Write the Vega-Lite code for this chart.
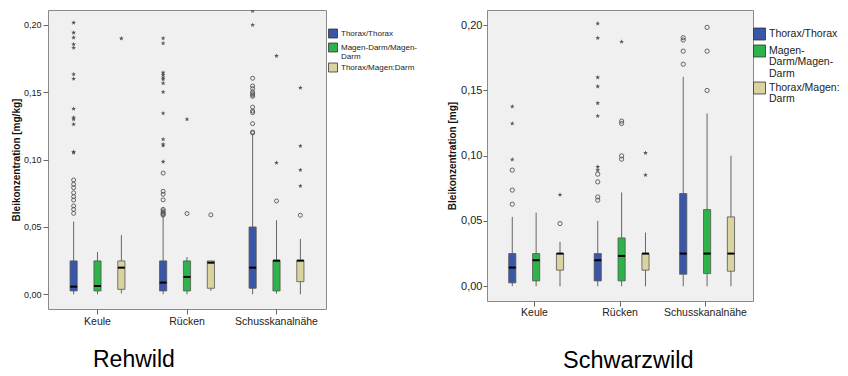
{
  "$schema": "https://vega.github.io/schema/vega-lite/v6.json",
  "padding": {"left": 10, "top": 9, "right": 0, "bottom": 0},
  "background": "white",
  "config": {
    "view": {"fill": "#f0f0f0", "stroke": "#8a8a8a", "strokeWidth": 1},
    "font": "Liberation Sans",
    "concat": {"spacing": 28}
  },
  "datasets": {
    "rehBox": [
      {"cat": "Keule", "grp": "Thorax/Thorax", "lo": 0.0, "q1": 0.0025, "med": 0.0057, "q3": 0.0248, "hi": 0.054},
      {"cat": "Keule", "grp": "Magen-Darm/Magen-Darm", "lo": 0.0, "q1": 0.0025, "med": 0.0062, "q3": 0.0248, "hi": 0.0314},
      {"cat": "Keule", "grp": "Thorax/Magen:Darm", "lo": 0.0007, "q1": 0.0037, "med": 0.0198, "q3": 0.0248, "hi": 0.044},
      {"cat": "Rücken", "grp": "Thorax/Thorax", "lo": 0.0, "q1": 0.0025, "med": 0.0087, "q3": 0.0248, "hi": 0.058},
      {"cat": "Rücken", "grp": "Magen-Darm/Magen-Darm", "lo": 0.0, "q1": 0.0025, "med": 0.0129, "q3": 0.0248, "hi": 0.0277},
      {"cat": "Rücken", "grp": "Thorax/Magen:Darm", "lo": 0.0025, "q1": 0.0045, "med": 0.0235, "q3": 0.0248, "hi": 0.0248},
      {"cat": "Schusskanalnähe", "grp": "Thorax/Thorax", "lo": 0.0, "q1": 0.0045, "med": 0.0198, "q3": 0.05, "hi": 0.119},
      {"cat": "Schusskanalnähe", "grp": "Magen-Darm/Magen-Darm", "lo": 0.0005, "q1": 0.0025, "med": 0.025, "q3": 0.0252, "hi": 0.055},
      {"cat": "Schusskanalnähe", "grp": "Thorax/Magen:Darm", "lo": 0.0, "q1": 0.0094, "med": 0.025, "q3": 0.0252, "hi": 0.0411}
    ],
    "rehOut": [
      {"cat": "Keule", "grp": "Thorax/Thorax", "t": "o", "v": 0.0849},
      {"cat": "Keule", "grp": "Thorax/Thorax", "t": "o", "v": 0.0817},
      {"cat": "Keule", "grp": "Thorax/Thorax", "t": "o", "v": 0.0792},
      {"cat": "Keule", "grp": "Thorax/Thorax", "t": "o", "v": 0.0754},
      {"cat": "Keule", "grp": "Thorax/Thorax", "t": "o", "v": 0.0725},
      {"cat": "Keule", "grp": "Thorax/Thorax", "t": "o", "v": 0.07},
      {"cat": "Keule", "grp": "Thorax/Thorax", "t": "o", "v": 0.0656},
      {"cat": "Keule", "grp": "Thorax/Thorax", "t": "o", "v": 0.0631},
      {"cat": "Keule", "grp": "Thorax/Thorax", "t": "o", "v": 0.0601},
      {"cat": "Keule", "grp": "Thorax/Thorax", "t": "s", "v": 0.2017},
      {"cat": "Keule", "grp": "Thorax/Thorax", "t": "s", "v": 0.1943},
      {"cat": "Keule", "grp": "Thorax/Thorax", "t": "s", "v": 0.1906},
      {"cat": "Keule", "grp": "Thorax/Thorax", "t": "s", "v": 0.1856},
      {"cat": "Keule", "grp": "Thorax/Thorax", "t": "s", "v": 0.1831},
      {"cat": "Keule", "grp": "Thorax/Thorax", "t": "s", "v": 0.1634},
      {"cat": "Keule", "grp": "Thorax/Thorax", "t": "s", "v": 0.1601},
      {"cat": "Keule", "grp": "Thorax/Thorax", "t": "s", "v": 0.1378},
      {"cat": "Keule", "grp": "Thorax/Thorax", "t": "s", "v": 0.1312},
      {"cat": "Keule", "grp": "Thorax/Thorax", "t": "s", "v": 0.1299},
      {"cat": "Keule", "grp": "Thorax/Thorax", "t": "s", "v": 0.1262},
      {"cat": "Keule", "grp": "Thorax/Thorax", "t": "s", "v": 0.1059},
      {"cat": "Keule", "grp": "Thorax/Thorax", "t": "s", "v": 0.1052},
      {"cat": "Keule", "grp": "Thorax/Magen:Darm", "t": "s", "v": 0.19},
      {"cat": "Rücken", "grp": "Thorax/Thorax", "t": "s", "v": 0.1901},
      {"cat": "Rücken", "grp": "Thorax/Thorax", "t": "s", "v": 0.1864},
      {"cat": "Rücken", "grp": "Thorax/Thorax", "t": "s", "v": 0.1646},
      {"cat": "Rücken", "grp": "Thorax/Thorax", "t": "s", "v": 0.163},
      {"cat": "Rücken", "grp": "Thorax/Thorax", "t": "s", "v": 0.161},
      {"cat": "Rücken", "grp": "Thorax/Thorax", "t": "s", "v": 0.1596},
      {"cat": "Rücken", "grp": "Thorax/Thorax", "t": "s", "v": 0.1567},
      {"cat": "Rücken", "grp": "Thorax/Thorax", "t": "s", "v": 0.1502},
      {"cat": "Rücken", "grp": "Thorax/Thorax", "t": "s", "v": 0.1344},
      {"cat": "Rücken", "grp": "Thorax/Thorax", "t": "s", "v": 0.1151},
      {"cat": "Rücken", "grp": "Thorax/Thorax", "t": "s", "v": 0.1114},
      {"cat": "Rücken", "grp": "Thorax/Thorax", "t": "s", "v": 0.1105},
      {"cat": "Rücken", "grp": "Thorax/Thorax", "t": "s", "v": 0.0985},
      {"cat": "Rücken", "grp": "Thorax/Thorax", "t": "o", "v": 0.09},
      {"cat": "Rücken", "grp": "Thorax/Thorax", "t": "o", "v": 0.0765},
      {"cat": "Rücken", "grp": "Thorax/Thorax", "t": "o", "v": 0.0743},
      {"cat": "Rücken", "grp": "Thorax/Thorax", "t": "o", "v": 0.0702},
      {"cat": "Rücken", "grp": "Thorax/Thorax", "t": "o", "v": 0.0631},
      {"cat": "Rücken", "grp": "Thorax/Thorax", "t": "o", "v": 0.062},
      {"cat": "Rücken", "grp": "Thorax/Thorax", "t": "o", "v": 0.061},
      {"cat": "Rücken", "grp": "Thorax/Thorax", "t": "o", "v": 0.06},
      {"cat": "Rücken", "grp": "Thorax/Thorax", "t": "o", "v": 0.0594},
      {"cat": "Rücken", "grp": "Thorax/Thorax", "t": "o", "v": 0.0588},
      {"cat": "Rücken", "grp": "Magen-Darm/Magen-Darm", "t": "s", "v": 0.13},
      {"cat": "Rücken", "grp": "Magen-Darm/Magen-Darm", "t": "o", "v": 0.06},
      {"cat": "Rücken", "grp": "Thorax/Magen:Darm", "t": "o", "v": 0.059},
      {"cat": "Schusskanalnähe", "grp": "Thorax/Thorax", "t": "s", "v": 0.2104},
      {"cat": "Schusskanalnähe", "grp": "Thorax/Thorax", "t": "s", "v": 0.2},
      {"cat": "Schusskanalnähe", "grp": "Thorax/Thorax", "t": "o", "v": 0.1604},
      {"cat": "Schusskanalnähe", "grp": "Thorax/Thorax", "t": "o", "v": 0.1547},
      {"cat": "Schusskanalnähe", "grp": "Thorax/Thorax", "t": "o", "v": 0.1527},
      {"cat": "Schusskanalnähe", "grp": "Thorax/Thorax", "t": "o", "v": 0.1502},
      {"cat": "Schusskanalnähe", "grp": "Thorax/Thorax", "t": "o", "v": 0.149},
      {"cat": "Schusskanalnähe", "grp": "Thorax/Thorax", "t": "o", "v": 0.148},
      {"cat": "Schusskanalnähe", "grp": "Thorax/Thorax", "t": "o", "v": 0.147},
      {"cat": "Schusskanalnähe", "grp": "Thorax/Thorax", "t": "o", "v": 0.139},
      {"cat": "Schusskanalnähe", "grp": "Thorax/Thorax", "t": "o", "v": 0.1361},
      {"cat": "Schusskanalnähe", "grp": "Thorax/Thorax", "t": "o", "v": 0.1349},
      {"cat": "Schusskanalnähe", "grp": "Thorax/Thorax", "t": "o", "v": 0.1267},
      {"cat": "Schusskanalnähe", "grp": "Thorax/Thorax", "t": "o", "v": 0.1205},
      {"cat": "Schusskanalnähe", "grp": "Thorax/Thorax", "t": "o", "v": 0.1198},
      {"cat": "Schusskanalnähe", "grp": "Magen-Darm/Magen-Darm", "t": "s", "v": 0.177},
      {"cat": "Schusskanalnähe", "grp": "Magen-Darm/Magen-Darm", "t": "s", "v": 0.0977},
      {"cat": "Schusskanalnähe", "grp": "Magen-Darm/Magen-Darm", "t": "o", "v": 0.0693},
      {"cat": "Schusskanalnähe", "grp": "Thorax/Magen:Darm", "t": "s", "v": 0.1534},
      {"cat": "Schusskanalnähe", "grp": "Thorax/Magen:Darm", "t": "s", "v": 0.1101},
      {"cat": "Schusskanalnähe", "grp": "Thorax/Magen:Darm", "t": "s", "v": 0.0923},
      {"cat": "Schusskanalnähe", "grp": "Thorax/Magen:Darm", "t": "s", "v": 0.0804},
      {"cat": "Schusskanalnähe", "grp": "Thorax/Magen:Darm", "t": "o", "v": 0.0587}
    ],
    "schBox": [
      {"cat": "Keule", "grp": "Thorax/Thorax", "lo": 0.0, "q1": 0.0026, "med": 0.0143, "q3": 0.025, "hi": 0.0531},
      {"cat": "Keule", "grp": "Magen-Darm/Magen-Darm", "lo": 0.0, "q1": 0.0041, "med": 0.0199, "q3": 0.025, "hi": 0.0564},
      {"cat": "Keule", "grp": "Thorax/Magen:Darm", "lo": 0.0, "q1": 0.0123, "med": 0.025, "q3": 0.025, "hi": 0.034},
      {"cat": "Rücken", "grp": "Thorax/Thorax", "lo": 0.0, "q1": 0.0041, "med": 0.0199, "q3": 0.025, "hi": 0.05},
      {"cat": "Rücken", "grp": "Magen-Darm/Magen-Darm", "lo": 0.0, "q1": 0.0041, "med": 0.0232, "q3": 0.037, "hi": 0.0718},
      {"cat": "Rücken", "grp": "Thorax/Magen:Darm", "lo": 0.0, "q1": 0.0123, "med": 0.025, "q3": 0.025, "hi": 0.0411},
      {"cat": "Schusskanalnähe", "grp": "Thorax/Thorax", "lo": 0.0, "q1": 0.0092, "med": 0.025, "q3": 0.071, "hi": 0.1604},
      {"cat": "Schusskanalnähe", "grp": "Magen-Darm/Magen-Darm", "lo": 0.0, "q1": 0.0097, "med": 0.025, "q3": 0.0587, "hi": 0.1323},
      {"cat": "Schusskanalnähe", "grp": "Thorax/Magen:Darm", "lo": 0.0, "q1": 0.0115, "med": 0.025, "q3": 0.0531, "hi": 0.0999}
    ],
    "schOut": [
      {"cat": "Keule", "grp": "Thorax/Thorax", "t": "s", "v": 0.1376},
      {"cat": "Keule", "grp": "Thorax/Thorax", "t": "s", "v": 0.1246},
      {"cat": "Keule", "grp": "Thorax/Thorax", "t": "s", "v": 0.097},
      {"cat": "Keule", "grp": "Thorax/Thorax", "t": "o", "v": 0.0889},
      {"cat": "Keule", "grp": "Thorax/Thorax", "t": "o", "v": 0.0736},
      {"cat": "Keule", "grp": "Thorax/Thorax", "t": "o", "v": 0.0628},
      {"cat": "Keule", "grp": "Thorax/Magen:Darm", "t": "s", "v": 0.07},
      {"cat": "Keule", "grp": "Thorax/Magen:Darm", "t": "o", "v": 0.048},
      {"cat": "Rücken", "grp": "Thorax/Thorax", "t": "s", "v": 0.2012},
      {"cat": "Rücken", "grp": "Thorax/Thorax", "t": "s", "v": 0.19},
      {"cat": "Rücken", "grp": "Thorax/Thorax", "t": "s", "v": 0.1599},
      {"cat": "Rücken", "grp": "Thorax/Thorax", "t": "s", "v": 0.153},
      {"cat": "Rücken", "grp": "Thorax/Thorax", "t": "s", "v": 0.1402},
      {"cat": "Rücken", "grp": "Thorax/Thorax", "t": "s", "v": 0.1303},
      {"cat": "Rücken", "grp": "Thorax/Thorax", "t": "s", "v": 0.0914},
      {"cat": "Rücken", "grp": "Thorax/Thorax", "t": "s", "v": 0.0889},
      {"cat": "Rücken", "grp": "Thorax/Thorax", "t": "o", "v": 0.0858},
      {"cat": "Rücken", "grp": "Thorax/Thorax", "t": "o", "v": 0.0799},
      {"cat": "Rücken", "grp": "Thorax/Thorax", "t": "o", "v": 0.0684},
      {"cat": "Rücken", "grp": "Thorax/Thorax", "t": "o", "v": 0.0659},
      {"cat": "Rücken", "grp": "Magen-Darm/Magen-Darm", "t": "s", "v": 0.1872},
      {"cat": "Rücken", "grp": "Magen-Darm/Magen-Darm", "t": "o", "v": 0.1264},
      {"cat": "Rücken", "grp": "Magen-Darm/Magen-Darm", "t": "o", "v": 0.1246},
      {"cat": "Rücken", "grp": "Magen-Darm/Magen-Darm", "t": "o", "v": 0.0998},
      {"cat": "Rücken", "grp": "Magen-Darm/Magen-Darm", "t": "o", "v": 0.0973},
      {"cat": "Rücken", "grp": "Thorax/Magen:Darm", "t": "s", "v": 0.1021},
      {"cat": "Rücken", "grp": "Thorax/Magen:Darm", "t": "s", "v": 0.0851},
      {"cat": "Schusskanalnähe", "grp": "Thorax/Thorax", "t": "o", "v": 0.1903},
      {"cat": "Schusskanalnähe", "grp": "Thorax/Thorax", "t": "o", "v": 0.1885},
      {"cat": "Schusskanalnähe", "grp": "Thorax/Thorax", "t": "o", "v": 0.18},
      {"cat": "Schusskanalnähe", "grp": "Thorax/Thorax", "t": "o", "v": 0.17},
      {"cat": "Schusskanalnähe", "grp": "Magen-Darm/Magen-Darm", "t": "o", "v": 0.1982},
      {"cat": "Schusskanalnähe", "grp": "Magen-Darm/Magen-Darm", "t": "o", "v": 0.18},
      {"cat": "Schusskanalnähe", "grp": "Magen-Darm/Magen-Darm", "t": "o", "v": 0.1499}
    ]
  },
  "resolve": {"scale": {"color": "independent", "y": "independent", "x": "independent"}, "legend": {"color": "independent"}},
  "hconcat": [
    {
      "width": 278,
      "height": 299,
      "title": {"text": "Rehwild", "orient": "bottom", "anchor": "start", "frame": "group", "dx": 45, "offset": 40, "baseline": "alphabetic", "fontSize": 23, "fontWeight": "normal", "color": "#000", "font": "Liberation Sans"},
      "encoding": {
        "x": {"field": "cat", "type": "nominal", "title": null, "sort": ["Keule", "Rücken", "Schusskanalnähe"],
              "scale": {"paddingInner": 0.2, "paddingOuter": 0.153},
              "axis": {"domain": false, "grid": false, "tickSize": 5, "tickColor": "#666", "labelAngle": 0, "labelFontSize": 10.5, "labelColor": "#222", "labelPadding": 2}},
        "xOffset": {"field": "grp", "type": "nominal", "sort": ["Thorax/Thorax", "Magen-Darm/Magen-Darm", "Thorax/Magen:Darm"],
                    "scale": {"paddingInner": 0.7, "paddingOuter": 0.35}}
      },
      "layer": [
        {
          "data": {"name": "rehBox"},
          "mark": {"type": "rule", "color": "#666", "strokeWidth": 1},
          "encoding": {
            "y": {"field": "lo", "type": "quantitative", "title": "Bleikonzentration [mg/kg]",
                  "scale": {"domain": [-0.0109, 0.2111], "nice": false, "zero": false},
                  "axis": {"values": [0, 0.05, 0.1, 0.15, 0.2], "labelExpr": "replace(format(datum.value, '.2f'), '.', ',')", "domain": false, "grid": false, "tickSize": 5, "tickColor": "#666", "labelFontSize": 9, "labelColor": "#222", "labelPadding": 2, "titleFontSize": 10, "titleFontWeight": "bold", "titleColor": "#111", "titlePadding": 2}},
            "y2": {"field": "hi"}
          }
        },
        {
          "data": {"name": "rehBox"},
          "mark": {"type": "bar", "stroke": "#555", "strokeWidth": 0.8, "opacity": 1},
          "encoding": {
            "y": {"field": "q1", "type": "quantitative", "title": "Bleikonzentration [mg/kg]"},
            "y2": {"field": "q3"},
            "color": {"field": "grp", "type": "nominal",
                      "scale": {"domain": ["Thorax/Thorax", "Magen-Darm/Magen-Darm", "Thorax/Magen:Darm"], "range": ["#3a56a6", "#2db34a", "#d9d39f"]},
                      "legend": {"orient": "none", "legendX": 280, "legendY": 18.5, "title": null, "symbolType": "square", "symbolSize": 81, "symbolStrokeColor": "#333", "symbolStrokeWidth": 0.8, "symbolOpacity": 1, "labelFontSize": 8, "labelColor": "#222", "labelOffset": 3, "rowPadding": 0, "padding": 0,
                                 "labelExpr": "datum.label == 'Magen-Darm/Magen-Darm' ? ['Magen-Darm/Magen-', 'Darm'] : datum.label",
                                 "encode": {"labels": {"update": {"lineHeight": {"value": 9}}}}}}
          }
        },
        {
          "data": {"name": "rehBox"},
          "mark": {"type": "tick", "color": "#000", "thickness": 2, "size": 7, "opacity": 1},
          "encoding": {
            "y": {"field": "med", "type": "quantitative", "title": "Bleikonzentration [mg/kg]"}
          }
        },
        {
          "data": {"name": "rehOut"},
          "transform": [{"filter": "datum.t == 'o'"}],
          "mark": {"type": "point", "shape": "circle", "filled": false, "stroke": "#555", "strokeWidth": 0.9, "size": 16, "opacity": 1, "clip": true},
          "encoding": {
            "y": {"field": "v", "type": "quantitative", "title": "Bleikonzentration [mg/kg]"}
          }
        },
        {
          "data": {"name": "rehOut"},
          "transform": [{"filter": "datum.t == 's'"}],
          "mark": {"type": "point", "shape": "M0,-1L0.235,-0.324L0.951,-0.309L0.38,0.124L0.588,0.809L0,0.4L-0.588,0.809L-0.38,0.124L-0.951,-0.309L-0.235,-0.324Z", "filled": true, "color": "#555", "size": 25, "opacity": 1, "clip": true},
          "encoding": {
            "y": {"field": "v", "type": "quantitative", "title": "Bleikonzentration [mg/kg]"}
          }
        }
      ]
    },
    {
      "width": 266,
      "height": 291,
      "title": {"text": "Schwarzwild", "orient": "bottom", "anchor": "start", "frame": "group", "dx": 76, "offset": 50, "baseline": "alphabetic", "fontSize": 23.5, "fontWeight": "normal", "color": "#000", "font": "Liberation Sans"},
      "encoding": {
        "x": {"field": "cat", "type": "nominal", "title": null, "sort": ["Keule", "Rücken", "Schusskanalnähe"],
              "scale": {"paddingInner": 0.2, "paddingOuter": 0.156},
              "axis": {"domain": false, "grid": false, "tickSize": 5, "tickColor": "#666", "labelAngle": 0, "labelFontSize": 10.5, "labelColor": "#222", "labelPadding": 1}},
        "xOffset": {"field": "grp", "type": "nominal", "sort": ["Thorax/Thorax", "Magen-Darm/Magen-Darm", "Thorax/Magen:Darm"],
                    "scale": {"paddingInner": 0.7, "paddingOuter": 0.35}}
      },
      "layer": [
        {
          "data": {"name": "schBox"},
          "mark": {"type": "rule", "color": "#666", "strokeWidth": 1},
          "encoding": {
            "y": {"field": "lo", "type": "quantitative", "title": "Bleikonzentration [mg]",
                  "scale": {"domain": [-0.0113, 0.2115], "nice": false, "zero": false},
                  "axis": {"values": [0, 0.05, 0.1, 0.15, 0.2], "labelExpr": "replace(format(datum.value, '.2f'), '.', ',')", "domain": false, "grid": false, "tickSize": 4, "tickColor": "#666", "labelFontSize": 11, "labelColor": "#222", "labelPadding": 1, "titleFontSize": 10, "titleFontWeight": "bold", "titleColor": "#111", "titlePadding": 3}},
            "y2": {"field": "hi"}
          }
        },
        {
          "data": {"name": "schBox"},
          "mark": {"type": "bar", "stroke": "#555", "strokeWidth": 0.8, "opacity": 1},
          "encoding": {
            "y": {"field": "q1", "type": "quantitative", "title": "Bleikonzentration [mg]"},
            "y2": {"field": "q3"},
            "color": {"field": "grp", "type": "nominal",
                      "scale": {"domain": ["Thorax/Thorax", "Magen-Darm/Magen-Darm", "Thorax/Magen:Darm"], "range": ["#3a56a6", "#2db34a", "#d9d39f"]},
                      "legend": {"orient": "none", "legendX": 266, "legendY": 17.5, "title": null, "symbolType": "square", "symbolSize": 144, "symbolStrokeColor": "#333", "symbolStrokeWidth": 0.8, "symbolOpacity": 1, "labelFontSize": 10.5, "labelColor": "#222", "labelOffset": 3, "rowPadding": 0, "padding": 0,
                                 "labelExpr": "datum.label == 'Magen-Darm/Magen-Darm' ? ['Magen-', 'Darm/Magen-', 'Darm'] : datum.label == 'Thorax/Magen:Darm' ? ['Thorax/Magen:', 'Darm'] : datum.label",
                                 "encode": {"labels": {"update": {"lineHeight": {"value": 11.3}}}}}}
          }
        },
        {
          "data": {"name": "schBox"},
          "mark": {"type": "tick", "color": "#000", "thickness": 2, "size": 7, "opacity": 1},
          "encoding": {
            "y": {"field": "med", "type": "quantitative", "title": "Bleikonzentration [mg]"}
          }
        },
        {
          "data": {"name": "schOut"},
          "transform": [{"filter": "datum.t == 'o'"}],
          "mark": {"type": "point", "shape": "circle", "filled": false, "stroke": "#555", "strokeWidth": 0.9, "size": 18, "opacity": 1, "clip": true},
          "encoding": {
            "y": {"field": "v", "type": "quantitative", "title": "Bleikonzentration [mg]"}
          }
        },
        {
          "data": {"name": "schOut"},
          "transform": [{"filter": "datum.t == 's'"}],
          "mark": {"type": "point", "shape": "M0,-1L0.235,-0.324L0.951,-0.309L0.38,0.124L0.588,0.809L0,0.4L-0.588,0.809L-0.38,0.124L-0.951,-0.309L-0.235,-0.324Z", "filled": true, "color": "#555", "size": 25, "opacity": 1, "clip": true},
          "encoding": {
            "y": {"field": "v", "type": "quantitative", "title": "Bleikonzentration [mg]"}
          }
        }
      ]
    }
  ]
}
